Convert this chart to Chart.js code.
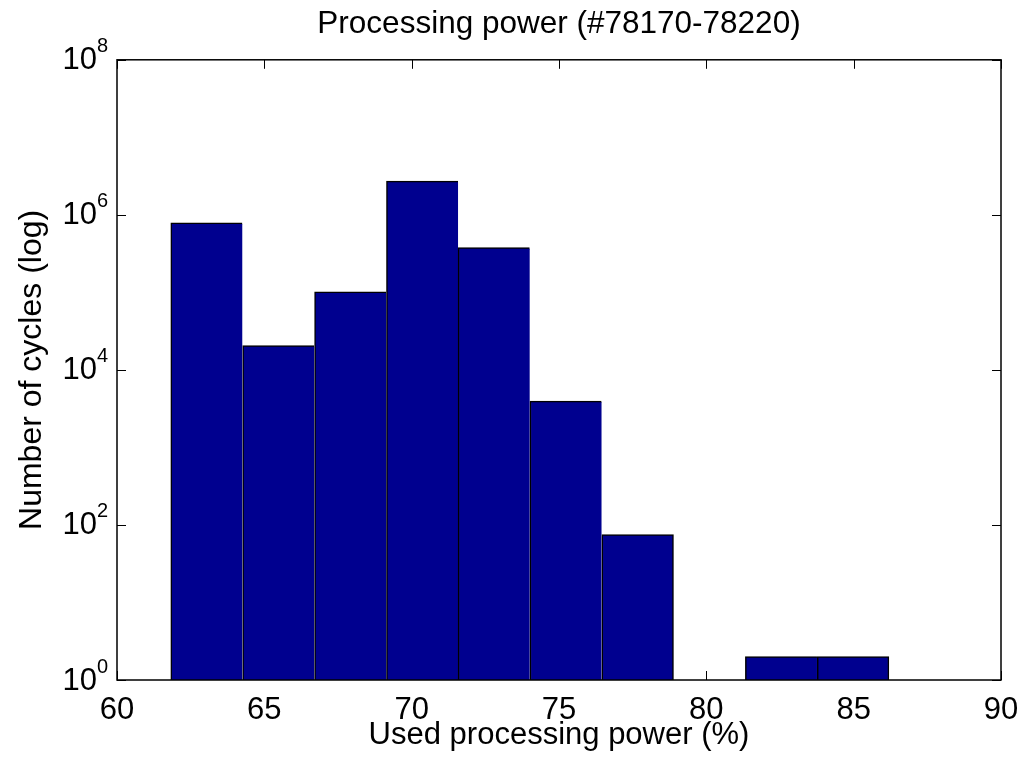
<!DOCTYPE html>
<html>
<head>
<meta charset="utf-8">
<title>Processing power</title>
<script src="https://cdn.jsdelivr.net/npm/chart.js@4"></script>
<style>
  body { margin: 0; background: #fff; }
</style>
</head>
<body>
<canvas id="histChart" width="1032" height="763"></canvas>
<script>
'use strict';
// histogram bins: centre of each bin (% used) and number of cycles in it
let binCenters = [63.04, 65.48, 67.92, 70.36, 72.79, 75.23, 77.67, 80.11, 82.54, 84.98];
let binCounts = [790000, 20600, 102000, 2720000, 378000, 3950, 75, 0, 2, 2];
// axis ticks
let xTicks = [60, 65, 70, 75, 80, 85, 90];
let yTicks = [1, 100, 10000, 1000000, 100000000];
let yTickExponents = ['0', '2', '4', '6', '8'];

let fontName = '"Liberation Sans", Arial, Helvetica, sans-serif';
Chart.defaults.font.family = fontName;
Chart.defaults.color = '#000';

let points = [];
for (let i = 0; i < binCenters.length; i++) {
  points.push({x: binCenters[i], y: binCounts[i]});
}

// matlab style box, inward ticks and 10^n labels
let axesBox = {
  id: 'axesBox',
  beforeDatasetsDraw(chart) {
    let ctx = chart.ctx;
    let area = chart.chartArea;
    let xs = chart.scales.x;
    let ys = chart.scales.y;
    ctx.save();
    ctx.strokeStyle = '#000';
    ctx.lineWidth = 1;
    ctx.beginPath();
    xTicks.forEach(function (v) {
      let px = Math.round(xs.getPixelForValue(v)) + 0.5;
      ctx.moveTo(px, area.bottom);
      ctx.lineTo(px, area.bottom - 9);
      ctx.moveTo(px, area.top);
      ctx.lineTo(px, area.top + 9);
    });
    yTicks.forEach(function (v) {
      let py = Math.round(ys.getPixelForValue(v)) + 0.5;
      ctx.moveTo(area.left, py);
      ctx.lineTo(area.left + 9, py);
      ctx.moveTo(area.right, py);
      ctx.lineTo(area.right - 9, py);
    });
    ctx.stroke();
    ctx.restore();
  },
  afterDatasetsDraw(chart) {
    let ctx = chart.ctx;
    let area = chart.chartArea;
    let ys = chart.scales.y;
    ctx.save();
    ctx.strokeStyle = '#000';
    ctx.lineWidth = 1.5;
    ctx.strokeRect(area.left, area.top, area.right - area.left, area.bottom - area.top);
    ctx.fillStyle = '#000';
    for (let i = 0; i < yTicks.length; i++) {
      let py = ys.getPixelForValue(yTicks[i]);
      ctx.font = '31px ' + fontName;
      ctx.textAlign = 'right';
      ctx.textBaseline = 'middle';
      ctx.fillText('10', area.left - 20, py + 1);
      ctx.font = '20px ' + fontName;
      ctx.textAlign = 'left';
      ctx.fillText(yTickExponents[i], area.left - 20, py - 13);
    }
    ctx.restore();
  }
};

let chart = new Chart(document.getElementById('histChart'), {
  type: 'bar',
  data: {
    datasets: [{
      label: 'Number of cycles',
      data: points,
      backgroundColor: 'rgb(0, 0, 143)',
      borderColor: '#000',
      borderWidth: function (c) {
        let i = c.dataIndex;
        let last = (i === binCounts.length - 1) || binCounts[i + 1] === 0;
        return {top: 1.5, left: 1.5, bottom: 0, right: last ? 1.5 : 0};
      },
      barPercentage: 1,
      categoryPercentage: 1
    }]
  },
  options: {
    responsive: false,
    animation: false,
    layout: {padding: {left: 0, right: 31, top: 0, bottom: 0}},
    plugins: {
      legend: {display: false},
      tooltip: {enabled: false},
      title: {
        display: true,
        fullSize: false,
        text: 'Processing power (#78170-78220)',
        font: {size: 31.5, weight: 'normal'},
        color: '#000',
        padding: {top: 5, bottom: 17}
      }
    },
    scales: {
      x: {
        type: 'linear',
        offset: false,
        min: 60,
        max: 90,
        grid: {display: false, drawTicks: false, offset: false},
        border: {display: false},
        ticks: {stepSize: 5, font: {size: 31}, padding: 12, maxRotation: 0, autoSkip: false},
        title: {
          display: true,
          text: 'Used processing power (%)',
          font: {size: 31},
          padding: {top: 0, bottom: 9}
        },
        afterFit: function (s) { s.height = 83; }
      },
      y: {
        type: 'logarithmic',
        min: 1,
        max: 100000000,
        grid: {display: false, drawTicks: false},
        border: {display: false},
        ticks: {display: false},
        title: {
          display: true,
          text: 'Number of cycles (log)',
          font: {size: 32},
          padding: {top: 13, bottom: 0}
        },
        afterFit: function (s) { s.width = 117; }
      }
    }
  },
  plugins: [axesBox]
});
</script>
</body>
</html>
